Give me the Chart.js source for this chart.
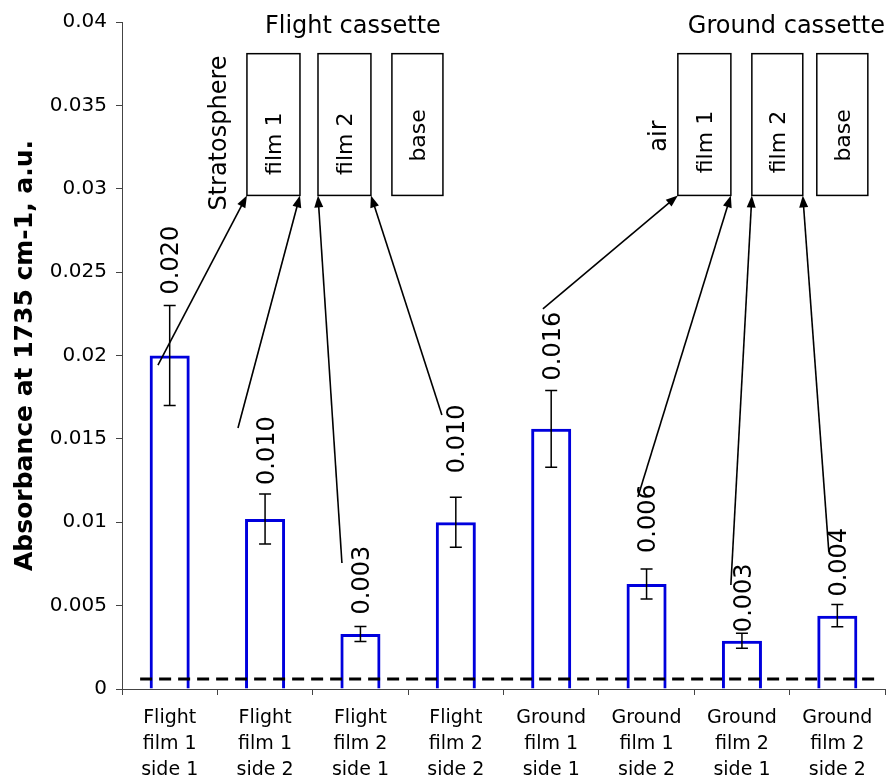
<!DOCTYPE html>
<html lang="en">
<head>
    <meta charset="UTF-8">
    <title>Absorbance at 1735 cm-1</title>
    <script src="https://cdn.jsdelivr.net/npm/chart.js"></script>
    <style>
        html, body { margin: 0; padding: 0; background: #fff; }
        #wrap { width: 890px; height: 781px; }
    </style>
</head>
<body>
<div id="wrap"><canvas id="absChart"></canvas></div>
<script>
    // data
    var categories = [
        ['Flight', 'film 1', 'side 1'],
        ['Flight', 'film 1', 'side 2'],
        ['Flight', 'film 2', 'side 1'],
        ['Flight', 'film 2', 'side 2'],
        ['Ground', 'film 1', 'side 1'],
        ['Ground', 'film 1', 'side 2'],
        ['Ground', 'film 2', 'side 1'],
        ['Ground', 'film 2', 'side 2']
    ];
    var absorbance = [0.0200, 0.0102, 0.0033, 0.0100, 0.0156, 0.0063, 0.0029, 0.0044];
    var errors = [0.0030, 0.0015, 0.00045, 0.0015, 0.0023, 0.0009, 0.00045, 0.00066];
    var detectionLimit = 0.0006;
    var yTicks = [0, 0.005, 0.01, 0.015, 0.02, 0.025, 0.03, 0.035, 0.04];
    var yTickLabels = ['0', '0.005', '0.01', '0.015', '0.02', '0.025', '0.03', '0.035', '0.04'];

    // gap (px) between error bar top and the rotated value label
    var labelGap = [11, 9, 12, 24, 10, 16, 1, 8];

    // cassette sketch, in axis units (x = category index, y = absorbance)
    var boxTop = 0.0381, boxBottom = 0.0296;
    var boxes = [
        { text: 'film 1', x0: 0.810, x1: 1.366, ty: 0.0327 },
        { text: 'film 2', x0: 1.555, x1: 2.110, ty: 0.0327 },
        { text: 'base',   x0: 2.330, x1: 2.865, ty: 0.0332 },
        { text: 'film 1', x0: 5.328, x1: 5.884, ty: 0.0328 },
        { text: 'film 2', x0: 6.104, x1: 6.638, ty: 0.0328 },
        { text: 'base',   x0: 6.785, x1: 7.320, ty: 0.0332 }
    ];
    var arrows = [
        [-0.123, 0.01943, 0.810, boxBottom],
        [0.716, 0.01565, 1.366, boxBottom],
        [1.806, 0.00756, 1.555, boxBottom],
        [2.854, 0.01643, 2.110, boxBottom],
        [3.913, 0.02279, 5.328, boxBottom],
        [4.909, 0.01151, 5.884, boxBottom],
        [5.884, 0.00624, 6.104, boxBottom],
        [6.911, 0.00822, 6.638, boxBottom]
    ];
    var headings = [
        { text: 'Flight cassette', x: 1.921, y: 0.03934 },
        { text: 'Ground cassette', x: 6.466, y: 0.03934 }
    ];
    var sideNotes = [
        { text: 'Stratosphere', x: 0.496, y: 0.03334 },
        { text: 'air', x: 5.108, y: 0.03316 }
    ];

    var FONT = 'DejaVu Sans';

    function px(chart, c) {
        var s = chart.scales.x;
        var p0 = s.getPixelForValue(0), p1 = s.getPixelForValue(1);
        return p0 + c * (p1 - p0);
    }
    function py(chart, v) {
        return chart.scales.y.getPixelForValue(v);
    }

    // vertical text reading upwards, centred horizontally on x
    function vText(ctx, text, x, y, size, align) {
        ctx.save();
        ctx.translate(x, y);
        ctx.rotate(-Math.PI / 2);
        ctx.font = size + 'px "' + FONT + '"';
        ctx.textAlign = align;
        ctx.textBaseline = 'alphabetic';
        ctx.fillText(text, 0, size * 0.36);
        ctx.restore();
    }

    function arrow(ctx, x1, y1, x2, y2) {
        var ang = Math.atan2(y2 - y1, x2 - x1);
        var len = 12, hw = 4.5;
        ctx.beginPath();
        ctx.moveTo(x1, y1);
        ctx.lineTo(x2 - Math.cos(ang) * len * 0.8, y2 - Math.sin(ang) * len * 0.8);
        ctx.stroke();
        ctx.beginPath();
        ctx.moveTo(x2, y2);
        ctx.lineTo(x2 - Math.cos(ang) * len - Math.sin(ang) * hw, y2 - Math.sin(ang) * len + Math.cos(ang) * hw);
        ctx.lineTo(x2 - Math.cos(ang) * len + Math.sin(ang) * hw, y2 - Math.sin(ang) * len - Math.cos(ang) * hw);
        ctx.closePath();
        ctx.fill();
    }

    var extras = {
        id: 'extras',
        afterDatasetsDraw: function(chart) {
            var ctx = chart.ctx;
            ctx.save();
            ctx.strokeStyle = '#000';
            ctx.fillStyle = '#000';

            // error bars + value labels
            ctx.lineWidth = 1.5;
            absorbance.forEach(function(v, i) {
                var cx = px(chart, i);
                var yt = py(chart, v + errors[i]);
                var yb = py(chart, v - errors[i]);
                ctx.beginPath();
                ctx.moveTo(cx, yt); ctx.lineTo(cx, yb);
                ctx.moveTo(cx - 6, yt); ctx.lineTo(cx + 6, yt);
                ctx.moveTo(cx - 6, yb); ctx.lineTo(cx + 6, yb);
                ctx.stroke();
                vText(ctx, v.toFixed(3), cx, yt - labelGap[i], 24, 'left');
            });

            // detection limit
            ctx.save();
            ctx.lineWidth = 3;
            ctx.setLineDash([12, 7]);
            ctx.beginPath();
            ctx.moveTo(px(chart, -0.31), py(chart, detectionLimit));
            ctx.lineTo(px(chart, 7.39), py(chart, detectionLimit));
            ctx.stroke();
            ctx.restore();

            // cassette boxes
            ctx.lineWidth = 1.5;
            boxes.forEach(function(b) {
                var x0 = px(chart, b.x0), x1 = px(chart, b.x1);
                var y0 = py(chart, boxTop), y1 = py(chart, boxBottom);
                ctx.strokeRect(x0, y0, x1 - x0, y1 - y0);
                vText(ctx, b.text, (x0 + x1) / 2, py(chart, b.ty), 22, 'center');
            });

            sideNotes.forEach(function(n) {
                vText(ctx, n.text, px(chart, n.x), py(chart, n.y), 24, 'center');
            });

            ctx.font = '24px "' + FONT + '"';
            ctx.textAlign = 'center';
            ctx.textBaseline = 'alphabetic';
            headings.forEach(function(h) {
                ctx.fillText(h.text, px(chart, h.x), py(chart, h.y));
            });

            ctx.lineWidth = 1.6;
            arrows.forEach(function(a) {
                arrow(ctx, px(chart, a[0]), py(chart, a[1]), px(chart, a[2]), py(chart, a[3]));
            });
            ctx.restore();
        }
    };

    var ctx = document.getElementById('absChart').getContext('2d');
    var chart = new Chart(ctx, {
        type: 'bar',
        data: {
            labels: categories,
            datasets: [{
                label: 'Absorbance',
                data: absorbance,
                backgroundColor: 'rgba(255,255,255,0)',
                borderColor: '#0000dd',
                borderWidth: 3,
                barPercentage: 0.42,
                categoryPercentage: 1
            }]
        },
        options: {
            responsive: true,
            maintainAspectRatio: false,
            animation: false,
            layout: { padding: { top: 22, right: 5, left: 0, bottom: 0 } },
            plugins: {
                legend: { display: false },
                tooltip: { enabled: false }
            },
            scales: {
                x: {
                    offset: true,
                    grid: { drawOnChartArea: false, tickLength: 6, color: '#444', offset: true },
                    border: { color: '#444', width: 1 },
                    ticks: {
                        color: '#000',
                        font: { family: FONT, size: 19, lineHeight: 1.37 },
                        padding: 10,
                        maxRotation: 0,
                        autoSkip: false
                    },
                    afterFit: function(s) { s.height = 92; }
                },
                y: {
                    min: 0,
                    max: 0.04,
                    grid: { drawOnChartArea: false, tickLength: 6, color: '#444' },
                    border: { color: '#444', width: 1 },
                    ticks: {
                        color: '#000',
                        font: { family: FONT, size: 20 },
                        padding: 9,
                        callback: function(v, i) { return yTickLabels[i]; }
                    },
                    afterBuildTicks: function(s) {
                        s.ticks = yTicks.map(function(v) { return { value: v }; });
                    },
                    title: {
                        display: true,
                        text: 'Absorbance at 1735 cm-1, a.u.',
                        color: '#000',
                        font: { family: FONT, size: 25, weight: 'bold' },
                        padding: { top: 10, bottom: 0 }
                    },
                    afterFit: function(s) { s.width = 122; }
                }
            }
        },
        plugins: [extras]
    });
</script>
</body>
</html>
